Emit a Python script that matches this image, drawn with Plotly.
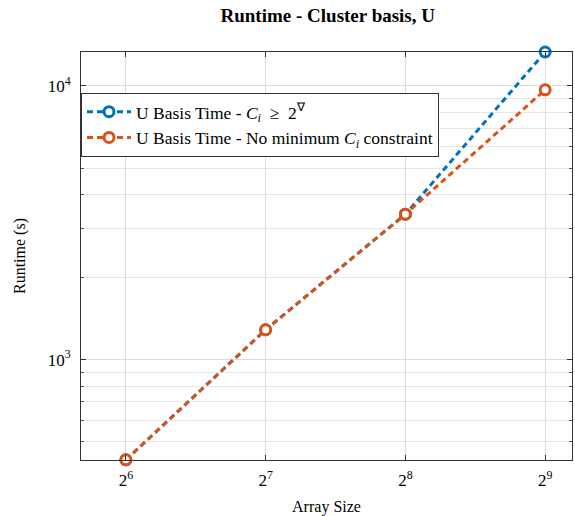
import plotly.graph_objects as go

array_size = [64, 128, 256, 512]
u_basis_constrained = [430, 1285, 3396, 13290]
u_basis_no_min = [430, 1285, 3396, 9670]

x_tickvals = [64, 128, 256, 512]
x_ticktext = ["2<sup>6</sup>", "2<sup>7</sup>", "2<sup>8</sup>", "2<sup>9</sup>"]
y_tickvals = [1000, 10000]
y_ticktext = ["10<sup>3</sup>", "10<sup>4</sup>"]
y_minor = [500, 600, 700, 800, 900, 2000, 3000, 4000, 5000, 6000, 7000, 8000, 9000]

blue = "#0072BD"
orange = "#D95319"
font = "Liberation Serif"

fig = go.Figure()
fig.add_trace(go.Scatter(
    x=array_size, y=u_basis_constrained, mode="lines+markers",
    name="U Basis Time - <i>C<sub>i</sub></i>  ≥  2<sup>∇</sup>",
    line=dict(color=blue, width=3, dash="6px,4px"),
    marker=dict(symbol="circle", size=10, color="white", line=dict(color=blue, width=3)),
    cliponaxis=False,
))
fig.add_trace(go.Scatter(
    x=array_size, y=u_basis_no_min, mode="lines+markers",
    name="U Basis Time - No minimum <i>C<sub>i</sub></i> constraint",
    line=dict(color=orange, width=3, dash="6px,4px"),
    marker=dict(symbol="circle", size=10, color="white", line=dict(color=orange, width=3)),
    cliponaxis=False,
))

fig.update_layout(
    width=575, height=516,
    margin=dict(l=81, r=2, t=52, b=54),
    paper_bgcolor="white", plot_bgcolor="white",
    font=dict(family=font, size=17, color="black"),
    title=dict(text="<b>Runtime - Cluster basis, U</b>", x=0.57, xanchor="center",
               y=0.983, yanchor="top", font=dict(size=19, family=font)),
    showlegend=True,
    legend=dict(x=0.0, y=0.9, xanchor="left", yanchor="top",
                bordercolor="#333", borderwidth=1, bgcolor="white",
                font=dict(size=17.5, family=font), tracegroupgap=0, itemwidth=44),
    xaxis=dict(
        type="log", range=[5.679 * 0.30103, 9.192 * 0.30103],
        tickvals=x_tickvals, ticktext=x_ticktext,
        showgrid=True, gridcolor="#dcdcdc", gridwidth=1,
        showline=True, linecolor="#333", linewidth=1, mirror="allticks",
        ticks="inside", ticklen=5, tickcolor="#333",
        zeroline=False, ticklabelstandoff=5,
        title=dict(text="Array Size", font=dict(size=16, family=font), standoff=12),
        tickfont=dict(size=17, family=font),
    ),
    yaxis=dict(
        type="log", range=[2.633, 4.1236],
        tickvals=y_tickvals, ticktext=y_ticktext,
        showgrid=True, gridcolor="#dcdcdc", gridwidth=1,
        showline=True, linecolor="#333", linewidth=1, mirror="allticks",
        ticks="inside", ticklen=5, tickcolor="#333",
        zeroline=False, ticklabelstandoff=6,
        minor=dict(tickmode="array", tickvals=y_minor, showgrid=True,
                   gridcolor="#e6e6e6", gridwidth=1, ticks="inside", ticklen=3,
                   tickcolor="#555"),
        title=dict(text="Runtime (s)", font=dict(size=16, family=font), standoff=18),
        tickfont=dict(size=17, family=font),
    ),
)

fig.write_html("out.html")
